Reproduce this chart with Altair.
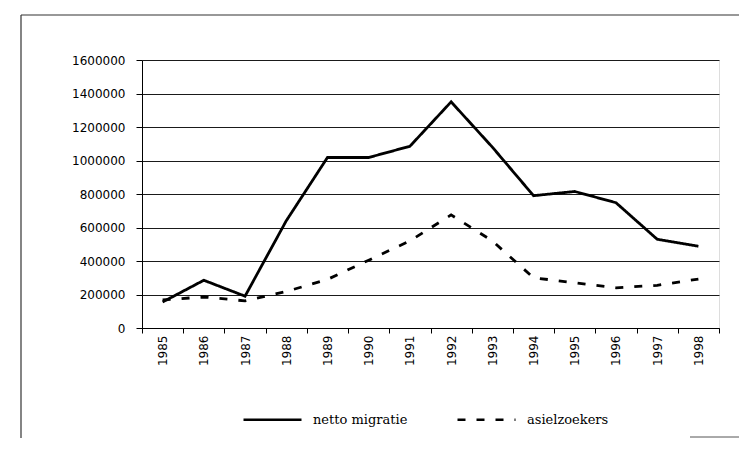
import altair as alt
import pandas as pd

years = ["1985", "1986", "1987", "1988", "1989", "1990", "1991",
         "1992", "1993", "1994", "1995", "1996", "1997", "1998"]
netto_migratie = [155000, 285000, 190000, 640000, 1018000, 1018000, 1085000,
                  1350000, 1080000, 790000, 815000, 748000, 530000, 488000]
asielzoekers = [168000, 185000, 162000, 218000, 290000, 405000, 520000,
                675000, 520000, 300000, 270000, 240000, 255000, 292000]
series_names = ["netto migratie", "asielzoekers"]
y_ticks = [0, 200000, 400000, 600000, 800000, 1000000, 1200000, 1400000, 1600000]

rows = []
for name, vals in zip(series_names, [netto_migratie, asielzoekers]):
    for yr, v in zip(years, vals):
        rows.append({"jaar": yr, "waarde": v, "reeks": name})
df = pd.DataFrame(rows)

lines = alt.Chart(df).mark_line(color="black", strokeWidth=2.8).encode(
    x=alt.X("jaar:O", sort=years,
            scale=alt.Scale(type="band", paddingInner=0, paddingOuter=0),
            axis=alt.Axis(title=None, labelAngle=-90, tickBand="extent",
                          labelFont="DejaVu Sans", labelFontSize=12,
                          labelColor="black", tickColor="black", tickSize=5,
                          domainColor="black", labelPadding=2, grid=False)),
    y=alt.Y("waarde:Q",
            scale=alt.Scale(domain=[0, 1600000], nice=False),
            axis=alt.Axis(title=None, values=y_ticks, format="d",
                          labelFont="DejaVu Sans", labelFontSize=12,
                          labelColor="black", tickColor="black", tickSize=6,
                          labelPadding=11, domainColor="black",
                          grid=True, gridColor="#1a1a1a", gridWidth=1.2,
                          gridOpacity=1)),
    strokeDash=alt.StrokeDash(
        "reeks:N",
        scale=alt.Scale(domain=series_names, range=[[1, 0], [8, 11]]),
        legend=alt.Legend(title=None, orient="none", legendX=100, legendY=329,
                          direction="horizontal", symbolType="stroke",
                          symbolSize=3364, symbolStrokeWidth=2.6,
                          symbolStrokeColor="black",
                          labelFont="DejaVu Serif", labelFontSize=13,
                          labelColor="black", labelOffset=10,
                          columnPadding=44)),
)

frame = alt.Data(values=[{}])
top_line = alt.Chart(frame).mark_rule(color="#333", strokeWidth=1.2).encode(
    x=alt.value(-121), x2=alt.value(608), y=alt.value(-45))
left_line = alt.Chart(frame).mark_rule(color="#333", strokeWidth=1.2).encode(
    x=alt.value(-121), y=alt.value(-45), y2=alt.value(380))
br_line = alt.Chart(frame).mark_rule(color="#555", strokeWidth=1).encode(
    x=alt.value(548), x2=alt.value(608), y=alt.value(377))

chart = alt.layer(lines, top_line, left_line, br_line).properties(
    width=577, height=268,
    autosize=alt.AutoSizeParams(type="none"),
    padding={"left": 134, "top": 52, "right": 20, "bottom": 110},
).configure_view(stroke="black", strokeWidth=1.2).configure(background="white")

chart.save("out.html", embed_options={"renderer": "svg", "actions": False})
